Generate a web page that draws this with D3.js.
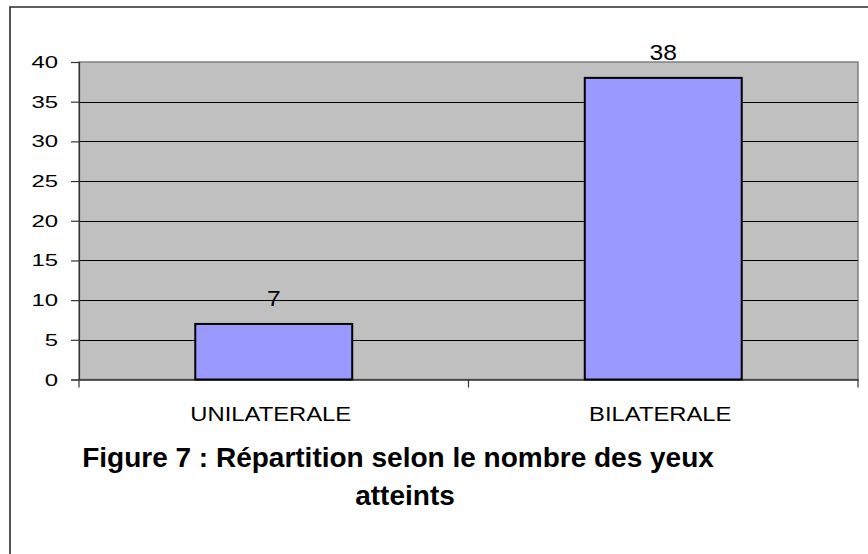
<!DOCTYPE html>
<html>
<head>
<meta charset="utf-8">
<script src="https://cdn.jsdelivr.net/npm/d3@7"></script>
<style>
  body { margin: 0; background: #fff; }
  text { font-family: "Liberation Sans", Arial, sans-serif; fill: #000; }
</style>
</head>
<body>
<div id="chart"></div>
<script>
// data
const categories = ["UNILATERALE", "BILATERALE"];
const values = [7, 38];
const yTicks = [0, 5, 10, 15, 20, 25, 30, 35, 40];
const titleLines = ["Figure 7 : Répartition selon le nombre des yeux", "atteints"];

const W = 868, H = 554;
const plot = { left: 79, right: 858, top: 62, bottom: 379.5 };

const svg = d3.select("#chart").append("svg")
	.attr("width", W)
	.attr("height", H);

// outer frame (only top and left edges are visible in the picture)
svg.append("path")
	.attr("d", "M10," + H + " L10,7 L" + W + ",7")
	.attr("fill", "none")
	.attr("stroke", "#2b2b2b")
	.attr("stroke-width", 1.6);

let x = d3.scaleBand()
	.domain(categories)
	.range([plot.left, plot.right])
	.padding(0);

let y = d3.scaleLinear()
	.domain([0, 40])
	.range([plot.bottom, plot.top]);

// plot background
svg.append("rect")
	.attr("x", plot.left)
	.attr("y", plot.top)
	.attr("width", plot.right - plot.left)
	.attr("height", plot.bottom - plot.top)
	.attr("fill", "#c0c0c0")
	.attr("stroke", "#808080")
	.attr("stroke-width", 1.5);

// gridlines
svg.append("g")
	.selectAll("line")
	.data(yTicks.filter(d => d > 0 && d < 40))
	.enter().append("line")
	.attr("x1", plot.left)
	.attr("x2", plot.right)
	.attr("y1", d => Math.round(y(d)) + 0.5)
	.attr("y2", d => Math.round(y(d)) + 0.5)
	.attr("stroke", "#000")
	.attr("stroke-width", 1);

// y axis (ticks + line), labels drawn separately
let yAxis = svg.append("g")
	.attr("transform", "translate(" + plot.left + ",0)")
	.call(d3.axisLeft(y).tickValues(yTicks).tickSize(8).tickFormat(""));
yAxis.select(".domain").attr("stroke", "#333").attr("stroke-width", 1.2);
yAxis.selectAll(".tick line").attr("stroke", "#333").attr("stroke-width", 1.2);

svg.append("g")
	.selectAll("text")
	.data(yTicks)
	.enter().append("text")
	.attr("transform", d => "translate(58," + (y(d) + 6) + ") scale(1.45,1)")
	.attr("text-anchor", "end")
	.style("font-size", "16.5px")
	.text(d => d);

// x axis line + category ticks
let xAxis = svg.append("g")
	.attr("transform", "translate(0," + plot.bottom + ")")
	.call(d3.axisBottom(x).tickSize(0).tickFormat(""));
xAxis.select(".domain").attr("stroke", "#333").attr("stroke-width", 1.6);

svg.append("g")
	.selectAll("line")
	.data(categories.concat(["end"]))
	.enter().append("line")
	.attr("x1", (d, i) => i < categories.length ? x(d) : plot.right)
	.attr("x2", (d, i) => i < categories.length ? x(d) : plot.right)
	.attr("y1", plot.bottom)
	.attr("y2", plot.bottom + 8)
	.attr("stroke", "#333")
	.attr("stroke-width", 1.2);

// bars
let barW = x.bandwidth() * 0.403;
svg.append("g")
	.selectAll("rect")
	.data(values)
	.enter().append("rect")
	.attr("x", (d, i) => x(categories[i]) + x.bandwidth() / 2 - barW / 2)
	.attr("y", d => y(d))
	.attr("width", barW)
	.attr("height", d => y(0) - y(d))
	.attr("fill", "#9999ff")
	.attr("stroke", "#000")
	.attr("stroke-width", 2);

// value labels
svg.append("g")
	.selectAll("text")
	.data(values)
	.enter().append("text")
	.attr("transform", (d, i) => "translate(" + (x(categories[i]) + x.bandwidth() / 2) + "," + (y(d) - 18) + ") scale(1.12,1)")
	.attr("text-anchor", "middle")
	.style("font-size", "22px")
	.text(d => d);

// category labels
svg.append("g")
	.selectAll("text")
	.data(categories)
	.enter().append("text")
	.attr("transform", d => "translate(" + (x(d) + x.bandwidth() / 2 - 3) + ",421) scale(1.22,1)")
	.attr("text-anchor", "middle")
	.style("font-size", "19.5px")
	.text(d => d);

// title
svg.append("g")
	.selectAll("text")
	.data(titleLines)
	.enter().append("text")
	.attr("x", (d, i) => i === 0 ? 398 : 405)
	.attr("y", (d, i) => 467 + i * 38)
	.attr("text-anchor", "middle")
	.style("font-size", "28px")
	.style("font-weight", "bold")
	.text(d => d);
</script>
</body>
</html>
